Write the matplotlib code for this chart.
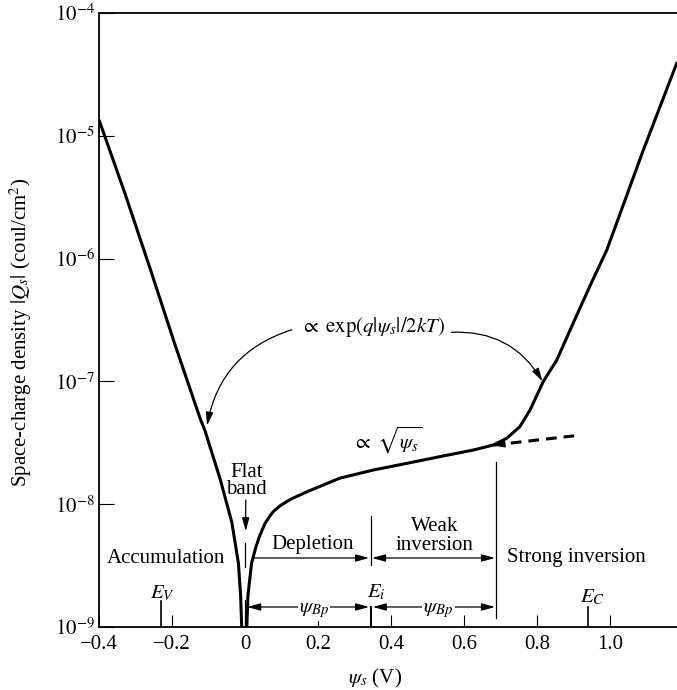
import matplotlib.pyplot as plt
import numpy as np

plt.rcParams['font.family'] = ['Liberation Serif', 'DejaVu Serif']
plt.rcParams['mathtext.fontset'] = 'stix'

# accumulation branch (psi_s < 0)
psi_acc = [-0.40, -0.329, -0.260, -0.192, -0.123, -0.110, -0.068, -0.036, -0.018, -0.012, -0.009]
q_acc = [1.35e-5, 3.4e-6, 8.3e-7, 2.0e-7, 5.0e-8, 4.0e-8, 1.6e-8, 7.1e-9, 3.3e-9, 1.8e-9, 1.0e-9]

# depletion / inversion branch (psi_s > 0)
psi_inv = [0.005, 0.008, 0.018, 0.030, 0.041, 0.055, 0.068, 0.0775, 0.096, 0.123, 0.169, 0.260,
           0.352, 0.443, 0.534, 0.625, 0.680, 0.717, 0.753, 0.781, 0.817, 0.854, 0.899, 0.945,
           0.991, 1.091, 1.184]
q_inv = [1.0e-9, 1.8e-9, 3.3e-9, 4.5e-9, 5.6e-9, 7.0e-9, 8.0e-9, 8.7e-9, 9.7e-9, 1.09e-8,
         1.26e-8, 1.63e-8, 1.90e-8, 2.15e-8, 2.44e-8, 2.76e-8, 3.03e-8, 3.44e-8, 4.28e-8,
         5.85e-8, 9.95e-8, 1.49e-7, 2.97e-7, 5.98e-7, 1.17e-6, 7.6e-6, 3.98e-5]

# sqrt(psi_s) extension (dashed)
psi_dash = [0.680, 0.911]
q_dash = [3.03e-8, 3.63e-8]

xticks = [-0.4, -0.2, 0, 0.2, 0.4, 0.6, 0.8, 1.0]
xticklabels = ['\u22120.4', '\u22120.2', '0', '0.2', '0.4', '0.6', '0.8', '1.0']
yticks = [1e-9, 1e-8, 1e-7, 1e-6, 1e-5, 1e-4]
yticklabels = [r'$10^{-9}$', r'$10^{-8}$', r'$10^{-7}$', r'$10^{-6}$', r'$10^{-5}$', r'$10^{-4}$']

psi_b = 0.344
psi_ev = -0.23
psi_ec = 0.941

fig = plt.figure(figsize=(6.77, 6.90), dpi=100)
ax = fig.add_axes([99 / 677, 63 / 690, 578 / 677, 614 / 690])
ax.set_yscale('log')
ax.set_xlim(-0.4, 1.1836)
ax.set_ylim(1e-9, 1e-4)

ax.plot(psi_acc, q_acc, color='black', lw=2.2, solid_capstyle='butt', solid_joinstyle='round')
ax.plot(psi_inv, q_inv, color='black', lw=2.2, solid_capstyle='butt', solid_joinstyle='round')
ax.plot(psi_dash, q_dash, color='black', lw=2.2, linestyle=(0, (3.5, 2.3)))

ax.set_xticks(xticks)
ax.set_xticklabels(xticklabels)
ax.set_yticks(yticks)
ax.set_yticklabels(yticklabels)
ax.minorticks_off()
ax.tick_params(axis='x', direction='in', length=8.5, width=0.8, labelsize=15, pad=6)
ax.tick_params(axis='y', direction='in', length=11, width=0.8, labelsize=15, pad=3)
ax.spines['right'].set_visible(False)
for s in ['left', 'top', 'bottom']:
    ax.spines[s].set_linewidth(1.3)

ax.set_ylabel(r'Space-charge density $|Q_s|$ (coul/cm$^2$)', fontsize=15)
ax.yaxis.set_label_coords(-0.112, 0.48)
ax.set_xlabel(r'$\psi_s$ (V)', fontsize=15)
ax.xaxis.set_label_coords(0.478, -0.065)

thin = dict(color='black', lw=0.9)

# region boundaries
ax.plot([0, 0], [10**-8.316, 10**-8.511], **thin)
ax.plot([0, 0], [1e-9, 10**-8.78], **thin)
ax.plot([psi_b, psi_b], [10**-8.10, 10**-8.495], **thin)
ax.plot([psi_b, psi_b], [1e-9, 10**-8.835], color='black', lw=1.5)
ax.plot([2 * psi_b, 2 * psi_b], [10**-7.654, 10**-8.927], **thin)
ax.plot([psi_ev, psi_ev], [1e-9, 10**-8.79], color='black', lw=1.2)
ax.plot([psi_ec, psi_ec], [1e-9, 10**-8.835], color='black', lw=1.2)

arw = dict(color='black', lw=0.9, shrinkA=0, shrinkB=0, mutation_scale=10)
head = 'head_length=0.8,head_width=0.22'
row1 = 10**-8.438
row2 = 10**-8.837
ax.annotate('', xy=(psi_b - 0.004, row1), xytext=(0.022, row1),
            arrowprops=dict(arrowstyle='-|>,' + head, **arw))
ax.annotate('', xy=(2 * psi_b - 0.003, row1), xytext=(psi_b + 0.004, row1),
            arrowprops=dict(arrowstyle='<|-|>,' + head, **arw))
ax.annotate('', xy=(psi_b - 0.004, row2), xytext=(0.006, row2),
            arrowprops=dict(arrowstyle='<|-|>,' + head, **arw))
ax.annotate('', xy=(2 * psi_b - 0.003, row2), xytext=(psi_b + 0.006, row2),
            arrowprops=dict(arrowstyle='<|-|>,' + head, **arw))

# flat band arrow
ax.annotate('', xy=(0.002, 10**-8.22), xytext=(0.002, 10**-7.966),
            arrowprops=dict(arrowstyle='-|>,' + head, **arw))
# small arrowhead at start of dashed line
ax.annotate('', xy=(0.676, 10**-7.52), xytext=(0.70, 10**-7.51),
            arrowprops=dict(arrowstyle='-|>,head_length=0.8,head_width=0.25', **arw))

# curved pointers to exponential parts
ax.annotate('', xy=(-0.104, 10**-7.36), xytext=(0.128, 10**-6.58),
            arrowprops=dict(arrowstyle='-|>,' + head, connectionstyle='arc3,rad=0.3', **arw))
ax.annotate('', xy=(0.815, 10**-7.0), xytext=(0.565, 10**-6.60),
            arrowprops=dict(arrowstyle='-|>,' + head, connectionstyle='arc3,rad=-0.3', **arw))

fs = 15
ax.text(0.349, 10**-6.557, r'$\propto\ \mathrm{exp}(q|\psi_s|/2kT)$', fontsize=fs, ha='center', va='center')
ax.text(0.389, 10**-7.477, r'$\propto\ \sqrt{\psi_s}$', fontsize=fs, ha='center', va='center')
ax.text(0.005, 10**-7.81, 'Flat\nband', fontsize=fs, ha='center', va='center', linespacing=0.9)
ax.text(-0.217, 10**-8.44, 'Accumulation', fontsize=fs, ha='center', va='center')
ax.text(0.184, 10**-8.33, 'Depletion', fontsize=fs, ha='center', va='center')
ax.text(0.519, 10**-8.26, 'Weak\ninversion', fontsize=fs, ha='center', va='center', linespacing=0.95)
ax.text(0.907, 10**-8.43, 'Strong inversion', fontsize=fs, ha='center', va='center')
ax.text(-0.227, 10**-8.73, r'$E_V$', fontsize=fs, ha='center', va='center')
ax.text(0.359, 10**-8.715, r'$E_i$', fontsize=fs, ha='center', va='center')
ax.text(0.953, 10**-8.756, r'$E_C$', fontsize=fs, ha='center', va='center')
box = dict(facecolor='white', edgecolor='none', pad=1)
ax.text(0.189, 10**-8.862, r'$\psi_{Bp}$', fontsize=fs, ha='center', va='center', bbox=box)
ax.text(0.529, 10**-8.862, r'$\psi_{Bp}$', fontsize=fs, ha='center', va='center', bbox=box)

fig.savefig('out.png', dpi=100)
